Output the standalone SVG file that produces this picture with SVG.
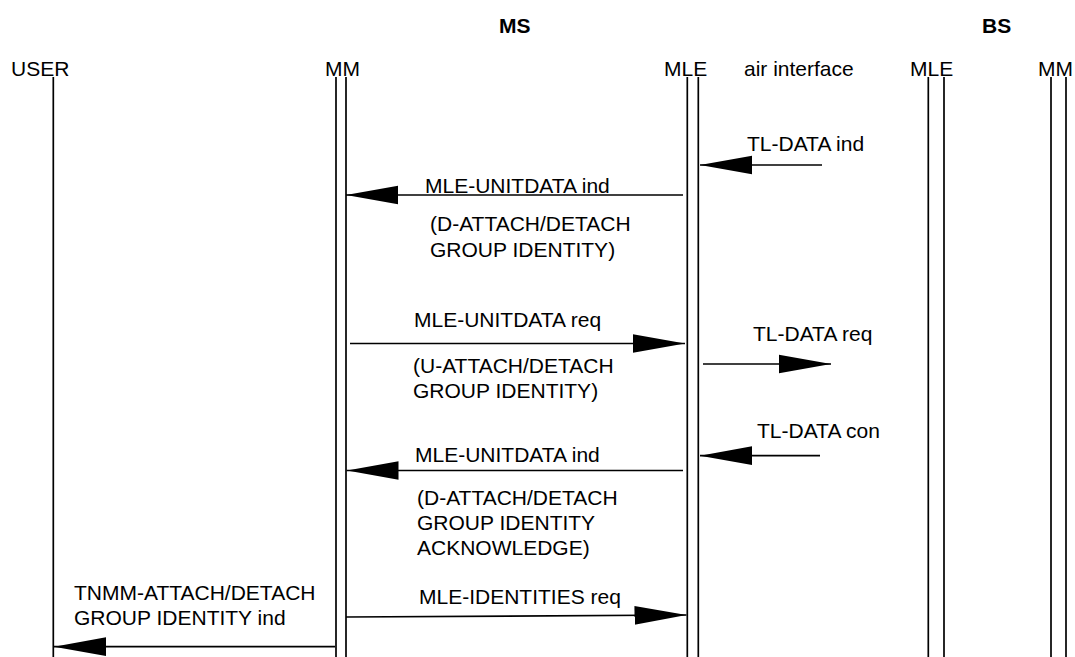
<svg xmlns="http://www.w3.org/2000/svg" width="1075" height="657" viewBox="0 0 1075 657">
<defs>
<style>
text{font-family:"Liberation Sans",Arial,Helvetica,sans-serif;font-size:21px;fill:#000}
.h{font-weight:bold}
.life{stroke:#000;stroke-width:1.7;fill:none}
.msg{stroke:#000;stroke-width:1.7;fill:none;marker-end:url(#ah)}
</style>
<marker id="ah" markerUnits="userSpaceOnUse" markerWidth="52" markerHeight="20" viewBox="0 0 50 18" refX="50" refY="9" orient="auto">
<path d="M0,0 L50,9 L0,18 z" fill="#000"/>
</marker>
</defs>
<rect width="1075" height="657" fill="#fff"/>
<g id="headings">
<text class="h" x="499" y="33">MS</text>
<text class="h" x="982" y="33">BS</text>
<text x="744" y="76">air interface</text>
</g>
<g id="ms-user">
<text x="11" y="76">USER</text>
<line class="life" x1="53.3" y1="77" x2="53.3" y2="657"/>
</g>
<g id="ms-mm">
<text x="325" y="76">MM</text>
<line class="life" x1="336" y1="77" x2="336" y2="657"/>
<line class="life" x1="346" y1="77" x2="346" y2="657"/>
</g>
<g id="ms-mle">
<text x="664" y="76">MLE</text>
<line class="life" x1="687.3" y1="77" x2="687.3" y2="657"/>
<line class="life" x1="698.3" y1="77" x2="698.3" y2="657"/>
</g>
<g id="bs-mle">
<text x="910" y="76">MLE</text>
<line class="life" x1="928.3" y1="77" x2="928.3" y2="657"/>
<line class="life" x1="944" y1="77" x2="944" y2="657"/>
</g>
<g id="bs-mm">
<text x="1038" y="76">MM</text>
<line class="life" x1="1051" y1="77" x2="1051" y2="657"/>
<line class="life" x1="1066" y1="77" x2="1066" y2="657"/>
</g>
<g id="connectors">
<g id="m1">
<text x="747" y="151">TL-DATA ind</text>
<line class="msg" x1="822" y1="165" x2="700" y2="165"/>
</g>
<g id="m2">
<text x="425" y="193">MLE-UNITDATA ind</text>
<line class="msg" x1="683" y1="195" x2="346" y2="195"/>
<text x="430" y="231">(D-ATTACH/DETACH</text>
<text x="430" y="257">GROUP IDENTITY)</text>
</g>
<g id="m3">
<text x="414" y="327">MLE-UNITDATA req</text>
<line class="msg" x1="350" y1="343.5" x2="685" y2="343.5"/>
<text x="413" y="373">(U-ATTACH/DETACH</text>
<text x="413" y="398">GROUP IDENTITY)</text>
</g>
<g id="m4">
<text x="753" y="341">TL-DATA req</text>
<line class="msg" x1="703" y1="364" x2="831" y2="364"/>
</g>
<g id="m5">
<text x="757" y="438">TL-DATA con</text>
<line class="msg" x1="820" y1="455.7" x2="700" y2="455.7"/>
</g>
<g id="m6">
<text x="415" y="462">MLE-UNITDATA ind</text>
<line class="msg" x1="683" y1="470.5" x2="346.5" y2="470.5"/>
<text x="417" y="505">(D-ATTACH/DETACH</text>
<text x="417" y="530">GROUP IDENTITY</text>
<text x="417" y="555">ACKNOWLEDGE)</text>
</g>
<g id="m7">
<text x="419" y="604">MLE-IDENTITIES req</text>
<line class="msg" x1="346" y1="617" x2="686.5" y2="615"/>
</g>
<g id="m8">
<text x="74" y="600">TNMM-ATTACH/DETACH</text>
<text x="74" y="625">GROUP IDENTITY ind</text>
<line class="msg" x1="335" y1="646.7" x2="54" y2="646.7"/>
</g>
</g>
</svg>
